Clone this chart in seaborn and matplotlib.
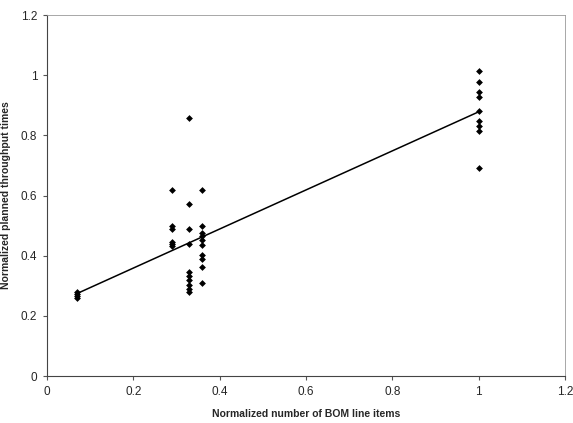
import numpy as np
import pandas as pd
import matplotlib
matplotlib.use('Agg')
import matplotlib.pyplot as plt
import seaborn as sns

# Normalized BOM line items (x) and planned throughput times (y)
bom_x = [0.07, 0.07, 0.07, 0.07,
         0.29, 0.29, 0.29, 0.29, 0.29, 0.29,
         0.33, 0.33, 0.33, 0.33, 0.33, 0.33, 0.33, 0.33, 0.33, 0.33,
         0.36, 0.36, 0.36, 0.36, 0.36, 0.36, 0.36, 0.36, 0.36, 0.36,
         1.0, 1.0, 1.0, 1.0, 1.0, 1.0, 1.0, 1.0, 1.0]
tpt_y = [0.28, 0.272, 0.265, 0.26,
         0.62, 0.50, 0.488, 0.447, 0.438, 0.432,
         0.857, 0.571, 0.488, 0.438, 0.347, 0.333, 0.319, 0.303, 0.289, 0.28,
         0.618, 0.50, 0.474, 0.465, 0.452, 0.435, 0.404, 0.389, 0.363, 0.308,
         1.015, 0.976, 0.945, 0.929, 0.882, 0.849, 0.831, 0.814, 0.69]

x_ticks = [0, 0.2, 0.4, 0.6, 0.8, 1, 1.2]
y_ticks = [0, 0.2, 0.4, 0.6, 0.8, 1, 1.2]
tick_labels = ['0', '0.2', '0.4', '0.6', '0.8', '1', '1.2']

df = pd.DataFrame({'bom': bom_x, 'tpt': tpt_y})

sns.set_style("ticks")
plt.rcParams['font.family'] = ['Liberation Sans', 'DejaVu Sans']

fig = plt.figure(figsize=(5.73, 4.23), dpi=100)
ax = fig.add_axes([0.082, 0.111, 0.904, 0.8535])

sns.regplot(data=df, x='bom', y='tpt', ci=None, ax=ax, color='black',
            marker='D', scatter_kws={'s': 12, 'linewidths': 0, 'alpha': 1},
            line_kws={'linewidth': 1.1})

ax.set_xlim(0, 1.2)
ax.set_ylim(0, 1.2)
ax.set_xticks(x_ticks)
ax.set_yticks(y_ticks)
ax.set_xticklabels(tick_labels, fontsize=8.5)
ax.set_yticklabels(tick_labels, fontsize=8.5)
ax.tick_params(axis='both', length=3, width=0.8, color='#555555', pad=4)

ax.set_xlabel('Normalized number of BOM line items', fontsize=7.5, fontweight='bold', labelpad=8)
ax.set_ylabel('Normalized planned throughput times', fontsize=7.5, fontweight='bold', labelpad=7)

for side in ['top', 'right']:
    ax.spines[side].set_visible(True)
    ax.spines[side].set_color('#999999')
    ax.spines[side].set_linewidth(0.6)
for side in ['left', 'bottom']:
    ax.spines[side].set_color('#444444')
    ax.spines[side].set_linewidth(0.8)

plt.savefig('out.png', dpi=100)
